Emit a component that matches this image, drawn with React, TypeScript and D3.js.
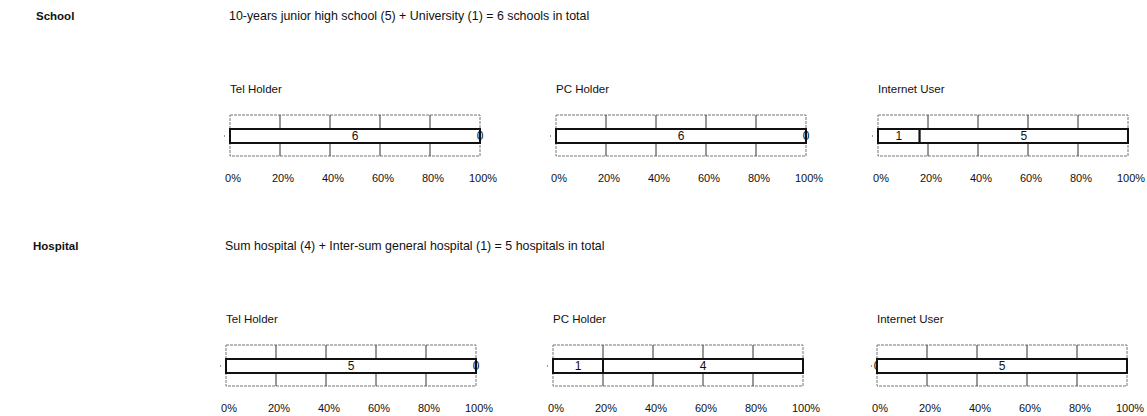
import React from 'react';
import * as d3 from 'd3';

// section headers
const sections = ['School', 'Hospital'];
const sectionNotes = [
  '10-years junior high school (5) + University (1) = 6 schools in total',
  'Sum hospital (4) + Inter-sum general hospital (1) = 5 hospitals in total',
];
const chartTitles = ['Tel Holder', 'PC Holder', 'Internet User'];

// counts per chart, row by row (School, Hospital)
const holderCounts = [
  [6, 6, 1],
  [5, 1, 0],
];
const nonHolderCounts = [
  [0, 0, 5],
  [0, 4, 5],
];
const tickValues = [0, 0.2, 0.4, 0.6, 0.8, 1];

const W = 1147;
const H = 416;
const rowTops = [115, 345];
const headerY = [16, 246];
const chartLefts = [
  [230, 556, 878],
  [226, 553, 877],
];
const boxW = 250;
const boxH = 41;
const barTop = 14;
const barH = 14;
const font = 'Arial, "Liberation Sans", sans-serif';

const MiniBar = ({ left, top, title, yes, no }) => {
  const x = d3.scaleLinear().domain([0, 1]).range([left, left + boxW]);
  const total = yes + no;
  const stack = d3.stack().keys(['yes', 'no'])([{ yes: yes / total, no: no / total }]);
  const counts = [yes, no];
  const fmt = d3.format('.0%');

  return (
    <g>
      <text x={left} y={top - 26} dy="0.35em" fontSize={11.5} fontFamily={font} fill="#111">
        {title}
      </text>
      <rect x={left} y={top} width={boxW} height={boxH} fill="none" stroke="#777" strokeWidth={1} strokeDasharray="3,1" />
      {tickValues.slice(1, -1).map(t => (
        <line key={t} x1={x(t)} x2={x(t)} y1={top} y2={top + boxH} stroke="#333" strokeWidth={1} />
      ))}
      <line x1={left - 6} x2={left - 5} y1={top + barTop + barH / 2} y2={top + barTop + barH / 2} stroke="#333" />
      {stack.map((s, i) => {
        const [a, b] = s[0];
        return (
          <g key={s.key}>
            <rect
              x={x(a)}
              y={top + barTop}
              width={x(b) - x(a)}
              height={barH}
              fill="#fff"
              stroke="#111"
              strokeWidth={2}
            />
            <text
              x={(x(a) + x(b)) / 2}
              y={top + barTop + barH / 2}
              dy="0.36em"
              textAnchor="middle"
              fontSize={12}
              fontFamily={font}
              fill="#111"
            >
              {counts[i]}
            </text>
          </g>
        );
      })}
      {tickValues.map(t => (
        <text
          key={t}
          x={x(t) + 3}
          y={top + boxH + 22}
          dy="0.35em"
          textAnchor="middle"
          fontSize={11}
          fontFamily={font}
          fill="#111"
        >
          {fmt(t)}
        </text>
      ))}
    </g>
  );
};

export default function App() {
  return (
    <svg
      width={W}
      height={H}
      style={{ position: 'absolute', left: 0, top: 0, background: '#fff' }}
    >
      {sections.map((name, r) => (
        <g key={name}>
          <text x={r === 0 ? 36 : 33} y={headerY[r]} dy="0.35em" fontSize={11.5} fontWeight="bold" fontFamily={font} fill="#111">
            {name}
          </text>
          <text x={chartLefts[r][0] - 1} y={headerY[r]} dy="0.35em" fontSize={12.4} fontFamily={font} fill="#111">
            {sectionNotes[r]}
          </text>
          {chartTitles.map((t, c) => (
            <MiniBar
              key={t}
              left={chartLefts[r][c]}
              top={rowTops[r]}
              title={t}
              yes={holderCounts[r][c]}
              no={nonHolderCounts[r][c]}
            />
          ))}
        </g>
      ))}
    </svg>
  );
}
